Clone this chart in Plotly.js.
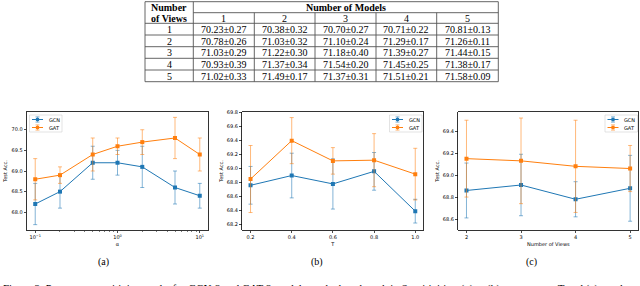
<!DOCTYPE html>
<html>
<head>
<meta charset="utf-8">
<script src="https://cdn.plot.ly/plotly-3.0.1.min.js"></script>
<style>
html,body{margin:0;padding:0;background:#fff;}
#chart{width:640px;height:286px;}
</style>
</head>
<body>
<div id="chart"></div>
<script>
// ---------- table data ----------
const tableViews = ['1','2','3','4','5'];
const tableModels = ['1','2','3','4','5'];
const tableMean = [
  [70.23,70.38,70.70,70.71,70.81],
  [70.78,71.03,71.10,71.29,71.26],
  [71.03,71.22,71.18,71.39,71.44],
  [70.93,71.37,71.54,71.45,71.38],
  [71.02,71.49,71.37,71.51,71.58]
];
const tableStd = [
  [0.27,0.32,0.27,0.22,0.13],
  [0.26,0.32,0.24,0.17,0.11],
  [0.29,0.30,0.40,0.27,0.15],
  [0.39,0.34,0.20,0.25,0.17],
  [0.33,0.17,0.31,0.21,0.09]
];

// ---------- (a) alpha ----------
const alphaVals = [0.1,0.2,0.5,1,2,5,10];
const gcnAlpha = [68.2,68.5,69.2,69.2,69.1,68.6,68.4];
const gcnAlphaErr = [0.5,0.4,0.4,0.3,0.5,0.4,0.3];
const gatAlpha = [68.8,68.9,69.4,69.6,69.7,69.8,69.4];
const gatAlphaErr = [0.5,0.2,0.4,0.2,0.3,0.5,0.4];

// ---------- (b) T ----------
const tVals = [0.2,0.4,0.6,0.8,1.0];
const gcnT = [68.76,68.90,68.78,68.96,68.39];
const gcnTErr = [0.27,0.32,0.36,0.27,0.17];
const gatT = [68.85,69.40,69.11,69.12,68.92];
const gatTErr = [0.48,0.33,0.19,0.38,0.37];

// ---------- (c) number of views ----------
const viewVals = [2,3,4,5];
const gcnV = [68.86,68.91,68.78,68.88];
const gcnVErr = [0.25,0.28,0.16,0.30];
const gatV = [69.15,69.13,69.08,69.06];
const gatVErr = [0.35,0.39,0.42,0.21];

const seriesNames = ['GCN','GAT'];
const subCaptions = ['(a)','(b)','(c)'];
const figCaption = 'Figure 2: Parameter sensitivity results for GCN-2 and GAT-2 models on the benchmark in Sensitivities, (a) \u03b1, (b) temperature T and (c) number of views of the model';

const BLUE = '#1f77b4', ORANGE = '#ff7f0e';
const BLUE_E = 'rgba(31,119,180,0.55)', ORANGE_E = 'rgba(255,127,14,0.55)';
const COLORS = [BLUE, ORANGE], ECOLORS = [BLUE_E, ORANGE_E];

function tr(x, y, e, name, color, ecolor, xa, ya) {
  return {
    type:'scatter', mode:'lines+markers', x:x, y:y, name:name,
    xaxis:xa, yaxis:ya, showlegend:false,
    line:{color:color, width:1},
    marker:{color:color, symbol:'square', size:4},
    error_y:{type:'data', array:e, visible:true, color:ecolor, thickness:1, width:2}
  };
}

const data = [
  tr(alphaVals,gcnAlpha,gcnAlphaErr,seriesNames[0],BLUE,BLUE_E,'x','y'),
  tr(alphaVals,gatAlpha,gatAlphaErr,seriesNames[1],ORANGE,ORANGE_E,'x','y'),
  tr(tVals,gcnT,gcnTErr,seriesNames[0],BLUE,BLUE_E,'x2','y2'),
  tr(tVals,gatT,gatTErr,seriesNames[1],ORANGE,ORANGE_E,'x2','y2'),
  tr(viewVals,gcnV,gcnVErr,seriesNames[0],BLUE,BLUE_E,'x3','y3'),
  tr(viewVals,gatV,gatVErr,seriesNames[1],ORANGE,ORANGE_E,'x3','y3')
];

const TF = {family:'DejaVu Sans', size:5, color:'#000'};
function ax(extra){
  return Object.assign({
    showline:true, mirror:true, linecolor:'#000', linewidth:0.8,
    ticks:'outside', ticklen:2.5, tickwidth:0.7, tickcolor:'#000',
    showgrid:false, zeroline:false, tickfont:TF, fixedrange:true
  }, extra);
}

const yDom = [1-230/286, 1-112/286];
const layout = {
  width:640, height:286, margin:{l:0,r:0,t:0,b:0},
  paper_bgcolor:'#fff', plot_bgcolor:'rgba(0,0,0,0)', showlegend:false,
  font:{family:'DejaVu Sans', size:5, color:'#000'},
  xaxis: ax({type:'log', domain:[27/640,208/640], range:[-1.1,1.1],
    tickmode:'array', tickvals:[0.1,1,10], ticktext:['10<sup>\u22121</sup>','10<sup>0</sup>','10<sup>1</sup>'],
    minor:{tickmode:'array', tickvals:[0.2,0.3,0.4,0.5,0.6,0.7,0.8,0.9,2,3,4,5,6,7,8,9], ticks:'outside', ticklen:1.5, tickwidth:0.5, tickcolor:'#000'},
    title:{text:'\u03b1', font:TF, standoff:3}}),
  yaxis: ax({domain:yDom, range:[67.57,70.43], dtick:0.5, tick0:68, tickformat:'.1f',
    title:{text:'Test Acc.', font:TF, standoff:3}}),
  xaxis2: ax({anchor:'y2', domain:[242.3/640,423.5/640], range:[0.16,1.04], dtick:0.2, tick0:0.2, tickformat:'.1f',
    title:{text:'T', font:TF, standoff:3}}),
  yaxis2: ax({anchor:'x2', domain:yDom, range:[68.12,69.81], dtick:0.2, tick0:68.2, tickformat:'.1f',
    title:{text:'Test Acc.', font:TF, standoff:3}}),
  xaxis3: ax({anchor:'y3', domain:[458.3/640,638.3/640], range:[1.85,5.15], dtick:1, tick0:2,
    title:{text:'Number of Views', font:TF, standoff:3}}),
  yaxis3: ax({anchor:'x3', domain:yDom, range:[68.5,69.575], dtick:0.2, tick0:68.6, tickformat:'.1f',
    title:{text:'Test Acc.', font:TF, standoff:3}}),
  xaxis4: {domain:[0,1], range:[0,640], visible:false, fixedrange:true, anchor:'y4'},
  yaxis4: {domain:[0,1], range:[286,0], visible:false, fixedrange:true, anchor:'x4'},
  shapes:[], annotations:[]
};

// ---------- table as shapes + annotations on overlay axis ----------
const colX = [145,193.3,254.3,315,376,436.7,498.3];
const rowY = [1.7,12.7,23.3,35,46.7,58.3,70,81.7];
const LC = '#555';
function line(x0,y0,x1,y1,color,w){ layout.shapes.push({type:'line',xref:'x4',yref:'y4',x0:x0,y0:y0,x1:x1,y1:y1,line:{color:color||LC,width:w||0.9}}); }
line(colX[0],rowY[0],colX[6],rowY[0]);
line(colX[1],rowY[1],colX[6],rowY[1]);
for(let r=2;r<rowY.length;r++) line(colX[0],rowY[r],colX[6],rowY[r]);
line(colX[0],rowY[0],colX[0],rowY[7]);
line(colX[1],rowY[0],colX[1],rowY[7]);
line(colX[6],rowY[0],colX[6],rowY[7]);
for(let c=2;c<6;c++) line(colX[c],rowY[1],colX[c],rowY[7]);

const SERIF = {family:'Liberation Serif', size:10, color:'#000'};
function txt(x,y,t,bold,font,anchor){
  layout.annotations.push({xref:'x4',yref:'y4',x:x,y:y,text:bold?'<b>'+t+'</b>':t,showarrow:false,
    xanchor:anchor||'center',yanchor:'middle',font:font||SERIF});
}
txt((colX[0]+colX[1])/2,(rowY[0]+rowY[1])/2+0.3,'Number',true);
txt((colX[0]+colX[1])/2,(rowY[1]+rowY[2])/2+0.3,'of Views',true);
txt((colX[1]+colX[6])/2,(rowY[0]+rowY[1])/2+0.3,'Number of Models',true);
for(let c=0;c<5;c++) txt((colX[c+1]+colX[c+2])/2,(rowY[1]+rowY[2])/2+0.3,tableModels[c],false);
for(let r=0;r<5;r++){
  const yc=(rowY[r+2]+rowY[r+3])/2+0.3;
  txt((colX[0]+colX[1])/2,yc,tableViews[r],false);
  for(let c=0;c<5;c++) txt((colX[c+1]+colX[c+2])/2,yc,tableMean[r][c].toFixed(2)+'\u00b1'+tableStd[r][c].toFixed(2),false);
}

// ---------- compact matplotlib-style legends ----------
const legendBoxes = [[29.5,115,62],[389.5,115,422],[605,115,637.5]]; // left, top, right
const LF = {family:'DejaVu Sans', size:5, color:'#000'};
legendBoxes.forEach(b=>{
  const [x0,y0,x1]=b, y1=y0+17;
  layout.shapes.push({type:'rect',xref:'x4',yref:'y4',x0:x0,y0:y0,x1:x1,y1:y1,
    line:{color:'#d0d0d0',width:0.6},fillcolor:'rgba(255,255,255,0.85)'});
  seriesNames.forEach((n,i)=>{
    const yc=y0+4.5+i*8, hx=x0+8;
    line(x0+2.5,yc,x0+13.5,yc,COLORS[i],1);
    line(hx,yc-2.6,hx,yc+2.6,ECOLORS[i],1);
    line(hx-2,yc-2.6,hx+2,yc-2.6,ECOLORS[i],1);
    line(hx-2,yc+2.6,hx+2,yc+2.6,ECOLORS[i],1);
    layout.shapes.push({type:'rect',xref:'x4',yref:'y4',x0:hx-1.6,y0:yc-1.6,x1:hx+1.6,y1:yc+1.6,
      line:{width:0},fillcolor:COLORS[i]});
    txt(x0+17,yc,n,false,LF,'left');
  });
});

// ---------- captions ----------
const capX = [103,317,531.5];
subCaptions.forEach((s,i)=>txt(capX[i],262,s,false));
layout.annotations.push({xref:'x4',yref:'y4',x:1,y:279.5,text:figCaption,showarrow:false,
  xanchor:'left',yanchor:'top',font:{family:'Liberation Serif', size:11, color:'#000'}});

Plotly.newPlot('chart', data, layout, {staticPlot:true, displayModeBar:false});
</script>
</body>
</html>
